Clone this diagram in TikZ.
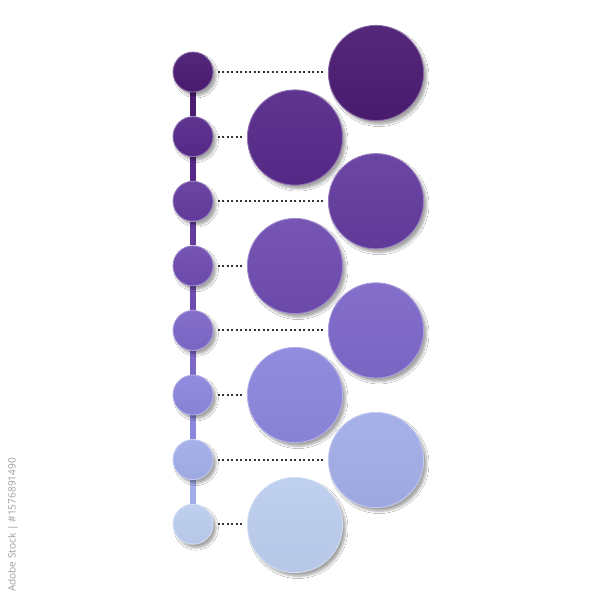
\documentclass[tikz,border=0pt]{standalone}
\usepackage{fontspec}
\setsansfont{Open Sans}
\usetikzlibrary{shadows.blur,backgrounds}
\definecolor{c1}{HTML}{4B1C72}
\definecolor{c2}{HTML}{572A8A}
\definecolor{c3}{HTML}{643C9E}
\definecolor{c4}{HTML}{6F4CB0}
\definecolor{c5}{HTML}{7D68C8}
\definecolor{c6}{HTML}{8C86DC}
\definecolor{c7}{HTML}{A2ADE8}
\definecolor{c8}{HTML}{BCCDEE}
\definecolor{dotgray}{HTML}{333333}
\tikzset{
  ball/.style={circle, inner sep=0pt, draw=#1!65!white, line width=0.6pt,
    top color=#1!95!white, bottom color=#1!97!black,
    blur shadow={shadow xshift=2.2pt, shadow yshift=-2.6pt, shadow blur radius=1.6pt,
      shadow blur steps=6, shadow opacity=35}},
  smallball/.style={ball=#1, minimum size=1cm},
  bigball/.style={ball=#1, minimum size=2.38cm},
  dotline/.style={dotgray, line width=1.4pt, dash pattern=on 1.4pt off 1.8pt},
  stem/.style={line width=3.6pt, #1},
}
\begin{document}
\begin{tikzpicture}[x=0.025cm,y=-0.025cm]
\useasboundingbox (0,0) rectangle (600,600);
% small circles
\foreach \i/\y in {1/72,2/136.6,3/201.2,4/265.8,5/330.4,6/395,7/459.6,8/524.2}{
  \node[smallball=c\i] (s\i) at (193,\y) {};
}
% big circles
\foreach \i/\x/\y in {1/376/73,3/376/201.2,5/376/330.4,7/376/460}{
  \node[bigball=c\i] (b\i) at (\x,\y) {};
}
\foreach \i/\x/\y in {2/295/137.5,4/295/266,6/295/395,8/295/525}{
  \node[bigball=c\i] (b\i) at (\x,\y) {};
}
% stems between small circles, and white page behind all
\begin{scope}[on background layer]
  \fill[white] (0,0) rectangle (600,600);
  \foreach \i/\j in {1/2,2/3,3/4,4/5,5/6,6/7,7/8}{
    \draw[stem=c\i] (s\i) -- (s\j);
  }
\end{scope}
% dotted connectors
\foreach \i in {1,...,8}{
  \draw[dotline, shorten <=3pt, shorten >=3pt] (s\i.east) -- (b\i.west |- s\i.east);
}
% side credit
\node[rotate=90, text=gray!75, font=\sffamily\fontsize{7.2}{9}\selectfont] (credit) at (13,525) {Adobe Stock | \#1576891490};
\end{tikzpicture}
\end{document}
